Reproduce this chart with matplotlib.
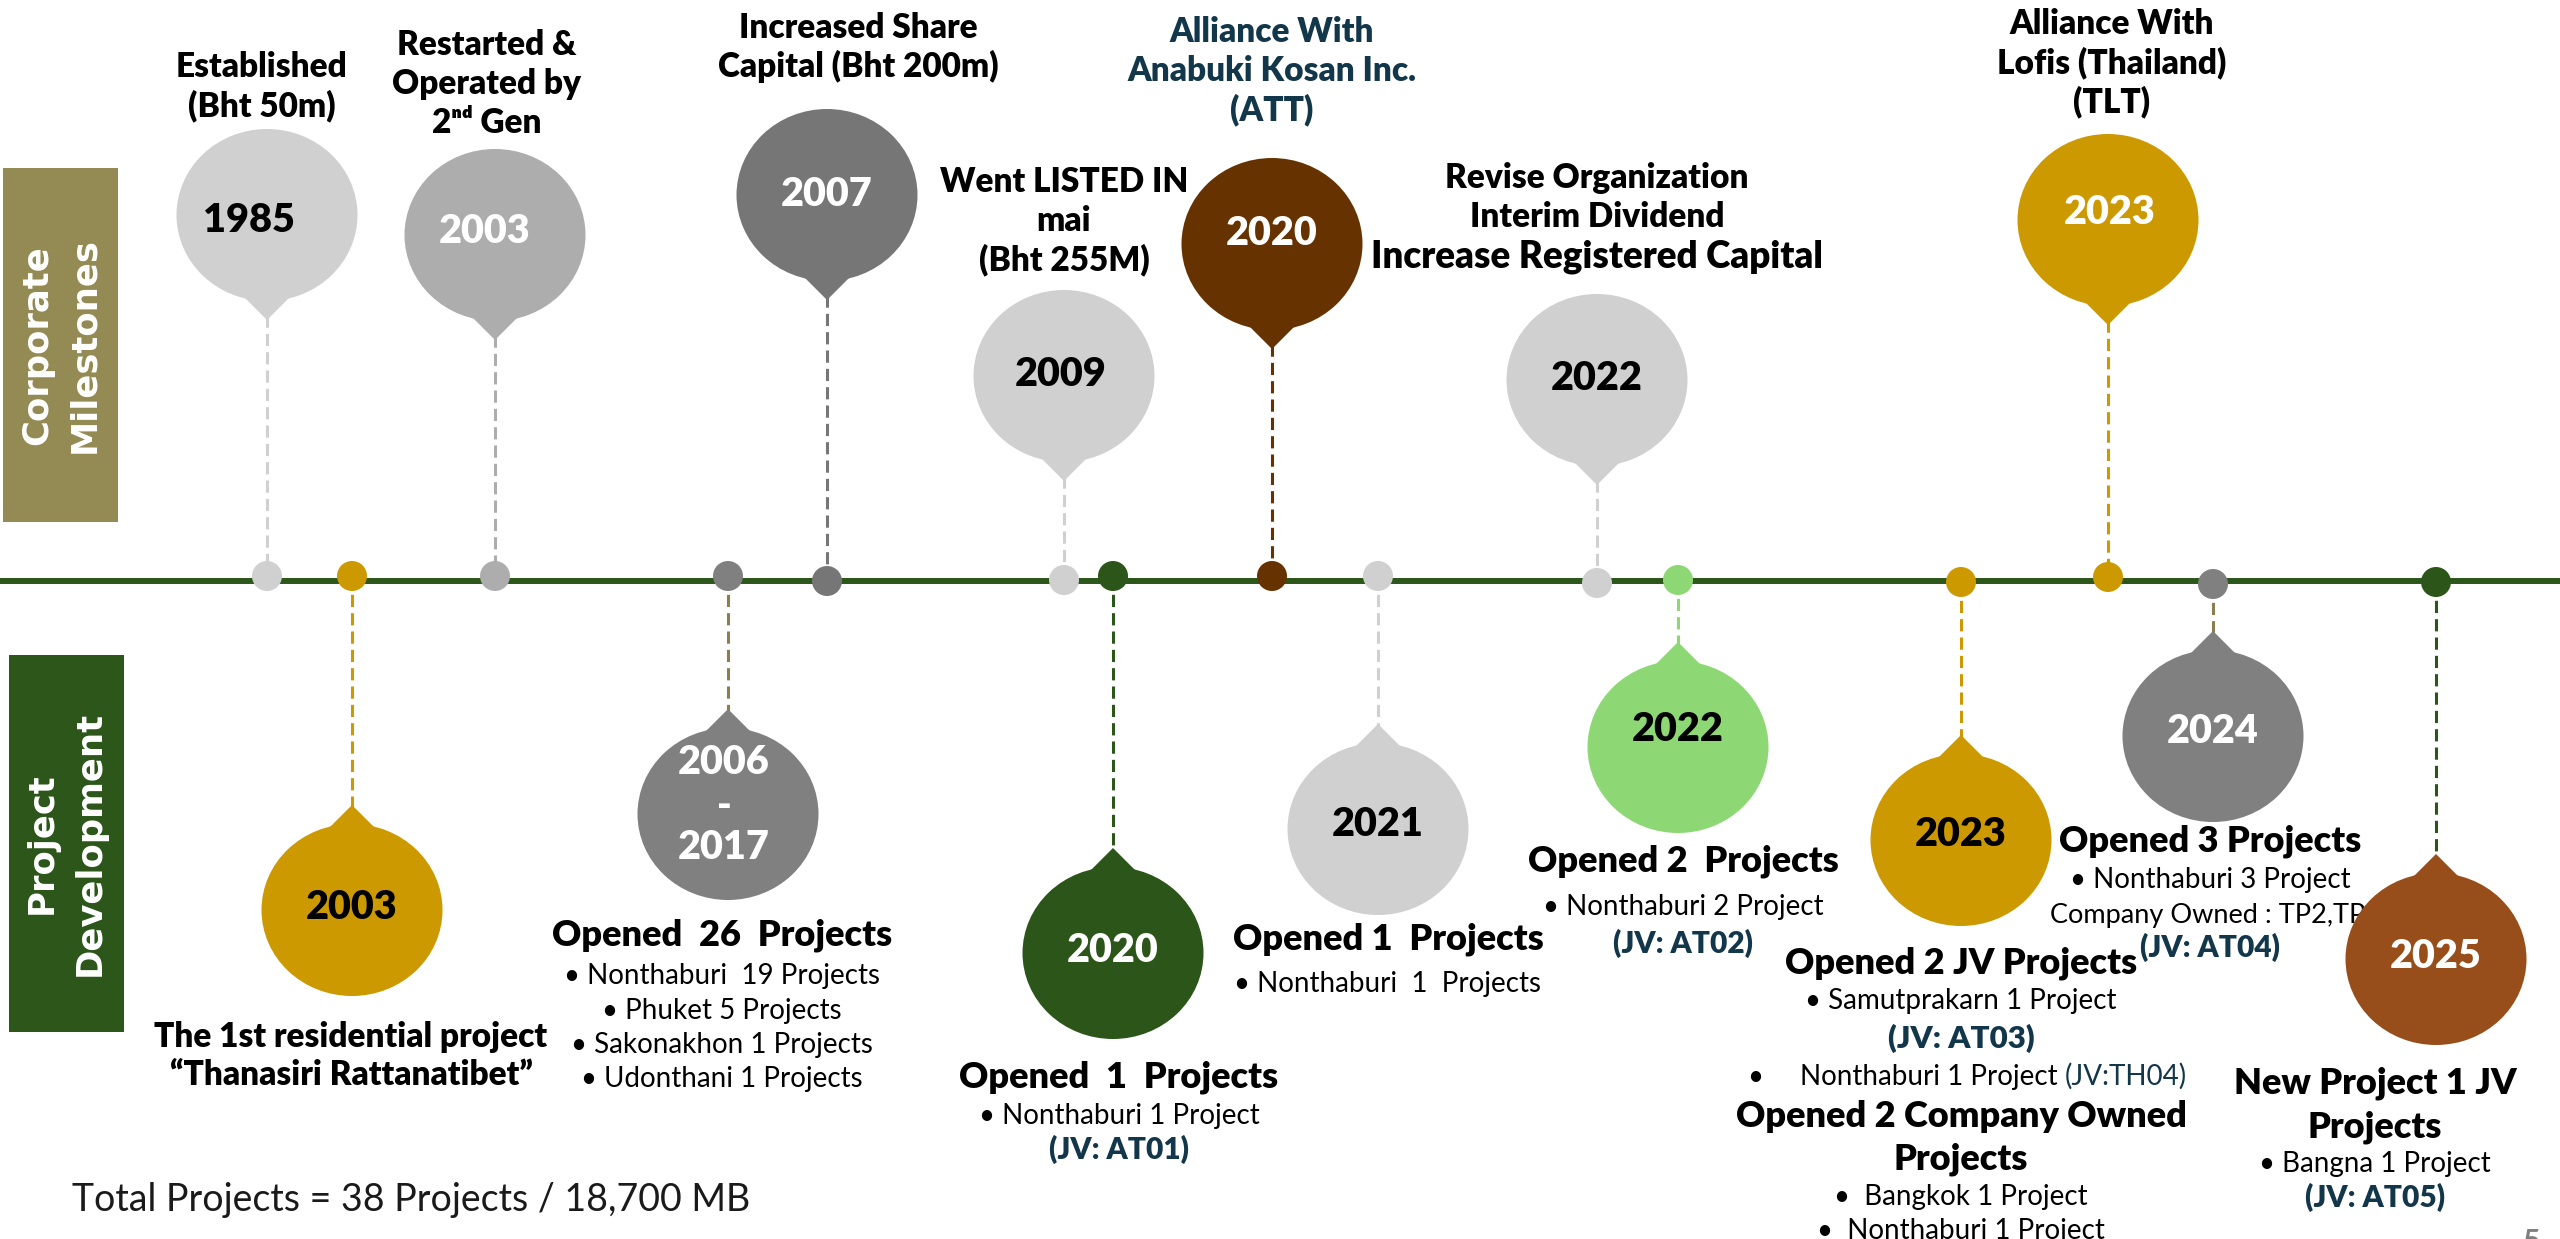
import matplotlib
matplotlib.use("Agg")
import matplotlib.pyplot as plt
from matplotlib.patches import Ellipse, Polygon, Rectangle, Circle

# ---------------- data ----------------
corp_years = ["1985", "2003", "2007", "2009", "2020", "2022", "2023"]
corp_titles = [
    ["Established", "(Bht 50m)"],
    ["Restarted &", "Operated by", "2ⁿᵈ Gen"],
    ["Increased Share", "Capital (Bht 200m)"],
    ["Went LISTED IN", "mai", "(Bht 255M)"],
    ["Alliance With", "Anabuki Kosan Inc.", "(ATT)"],
    ["Revise Organization", "Interim Dividend", "Increase Registered Capital"],
    ["Alliance With", "Lofis (Thailand)", "(TLT)"],
]
corp_balloon_colors = ["#D0D0D0", "#ADADAD", "#767676", "#D0D0D0", "#663300", "#D0D0D0", "#CC9900"]
corp_year_colors = ["black", "white", "white", "black", "white", "black", "white"]
corp_title_colors = ["black", "black", "black", "black", "#12364A", "black", "black"]

proj_years = ["2003", "2006\n-\n2017", "2020", "2021", "2022", "2023", "2024", "2025"]
proj_texts = [
    [("The 1st residential project", "head2"), ("“Thanasiri Rattanatibet”", "head2")],
    [("Opened  26  Projects", "head"), ("• Nonthaburi  19 Projects", "item"),
     ("• Phuket 5 Projects", "item"), ("• Sakonakhon 1 Projects", "item"),
     ("• Udonthani 1 Projects", "item")],
    [("Opened  1  Projects", "head"), ("• Nonthaburi 1 Project", "item"), ("(JV: AT01)", "jv")],
    [("Opened 1  Projects", "head"), ("• Nonthaburi  1  Projects", "item")],
    [("Opened 2  Projects", "head"), ("• Nonthaburi 2 Project", "item"), ("(JV: AT02)", "jv")],
    [("Opened 2 JV Projects", "head"), ("• Samutprakarn 1 Project", "item"), ("(JV: AT03)", "jvbig"),
     ("Nonthaburi 1 Project ", "special"), ("Opened 2 Company Owned", "head"), ("Projects", "head"),
     ("•  Bangkok 1 Project", "item"), ("•  Nonthaburi 1 Project", "item")],
    [("Opened 3 Projects", "head"), ("• Nonthaburi 3 Project", "item"),
     ("Company Owned : TP2,TP3", "itemleft"), ("(JV: AT04)", "jv")],
    [("New Project 1 JV", "head"), ("Projects", "head"), ("• Bangna 1 Project", "item"), ("(JV: AT05)", "jv")],
]
special_suffix = "(JV:TH04)"
proj_balloon_colors = ["#CC9900", "#808080", "#2B5519", "#D0D0D0", "#8DD874", "#CC9900", "#808080", "#974E1A"]
proj_year_colors = ["black", "white", "white", "black", "black", "black", "white", "white"]
proj_dot_colors = ["#CC9900", "#808080", "#2B5519", "#D0D0D0", "#8DD874", "#CC9900", "#808080", "#2B5519"]
proj_line_colors = ["#CC9900", "#8B7D4F", "#2B5519", "#D0D0D0", "#8DD874", "#CC9900", "#8B7D4F", "#2B5519"]

section_labels = [["Corporate", "Milestones"], ["Project", "Development"]]
total_text = "Total Projects = 38 Projects / 18,700 MB"

# ---------------- layout (pixels) ----------------
W, H = 2560, 1239
LINE_Y = 581
corp_x = [267, 495, 827, 1064, 1272, 1597, 2108]
corp_cy = [215, 235, 195, 376, 244, 380, 220]
corp_dot_y = [576, 576, 581, 580, 576, 583, 577]
corp_year_dx = [-18, -10, 0, -3, 0, 0, 2]
corp_year_y = [218, 229, 192, 372, 231, 376, 210]
corp_title_x = [262, 487, 858, 1064, 1272, 1597, 2112]
corp_title_y0 = [65, 43, 26, 180, 30, 176, 22]

proj_x = [352, 728, 1113, 1378, 1678, 1961, 2213, 2436]
proj_cy = [910, 814, 953, 829, 747, 840, 736, 959]
proj_dot_y = [576, 576, 576, 576, 580, 582, 584, 582]
proj_year_y = [905, None, 948, 822, 727, 832, 729, 954]
proj_text_x = [351, 722, 1119, 1388, 1683, 1961, 2210, 2375]
proj_text_y = [
    [1035, 1073],
    [932, 974, 1009, 1043, 1077],
    [1075, 1114, 1148],
    [936, 982],
    [859, 905, 942],
    [960, 999, 1037, 1075, 1114, 1157, 1195, 1229],
    [839, 878, 913, 946],
    [1081, 1124, 1162, 1196],
]

BW, BH = 181, 172  # balloon ellipse size
FAM = ["Lato", "DejaVu Sans"]
NAVY = "#12364A"
HEAVY = "heavy"
SIZES = {"head": 26, "head2": 24, "item": 20, "jv": 21.5, "jvbig": 22.5, "itemleft": 19.5, "special": 20}
WEIGHTS = {"head": HEAVY, "head2": HEAVY, "item": "normal", "jv": HEAVY, "jvbig": HEAVY,
           "itemleft": "normal", "special": "normal"}

fig = plt.figure(figsize=(25.6, 12.39), dpi=100)
ax = fig.add_axes([0, 0, 1, 1])
ax.set_xlim(0, W)
ax.set_ylim(H, 0)
ax.axis("off")


def txt(x, yc, s, size, weight=HEAVY, color="black", ha="center", z=6, family=FAM):
    base = yc + 0.36 * size * 100 / 72
    return ax.text(x, base, s, fontsize=size, fontweight=weight, color=color, ha=ha,
                   va="baseline", family=family, zorder=z)


def balloon(cx, cy, color, up=True, z=4):
    ax.add_patch(Ellipse((cx, cy), BW, BH, facecolor=color, edgecolor="none", zorder=z))
    s = 1 if up else -1
    ax.add_patch(Polygon([(cx - 45, cy + s * 60), (cx + 45, cy + s * 60), (cx, cy + s * 105)],
                         closed=True, facecolor=color, edgecolor="none", zorder=z))


# section boxes
ax.add_patch(Rectangle((3, 168), 115, 354, facecolor="#948A54", edgecolor="none", zorder=1))
ax.add_patch(Rectangle((9, 655), 115, 377, facecolor="#2C561A", edgecolor="none", zorder=1))
label_pos = [((37, 84), 345), ((42, 90), 843)]
for (xs, yc), lab in zip(label_pos, section_labels):
    for xx, word in zip(xs, lab):
        ax.text(xx, yc, word, rotation=90, ha="center", va="center", fontsize=25.5,
                fontweight="bold", color="white", family="DejaVu Sans", zorder=2)

# timeline
ax.plot([0, W], [LINE_Y, LINE_Y], color="#2C561A", lw=4.3, solid_capstyle="butt", zorder=2)

DASH = (0, (4, 2))
# corporate milestones (balloons above)
for i, yr in enumerate(corp_years):
    x, cy = corp_x[i], corp_cy[i]
    ax.plot([x, x], [cy + 100, corp_dot_y[i]], color=corp_balloon_colors[i], lw=2.2,
            linestyle=DASH, zorder=1.5)
    ax.add_patch(Circle((x, corp_dot_y[i]), 15, facecolor=corp_balloon_colors[i],
                        edgecolor="none", zorder=3))
    balloon(x, cy, corp_balloon_colors[i], up=True)
    txt(x + corp_year_dx[i], corp_year_y[i], yr, 28.5, color=corp_year_colors[i])
    for j, line in enumerate(corp_titles[i]):
        size = 26.5 if line.startswith("Increase Registered") else 24
        txt(corp_title_x[i], corp_title_y0[i] + 39 * j, line, size, color=corp_title_colors[i])

# project development (balloons below)
for i, yr in enumerate(proj_years):
    x, cy = proj_x[i], proj_cy[i]
    ax.plot([x, x], [proj_dot_y[i], cy - 100], color=proj_line_colors[i], lw=2.2,
            linestyle=DASH, zorder=1.5)
    ax.add_patch(Circle((x, proj_dot_y[i]), 15, facecolor=proj_dot_colors[i],
                        edgecolor="none", zorder=3))
    balloon(x, cy, proj_balloon_colors[i], up=False, z=4 if i < 7 else 5.5)
    if "\n" in yr:
        parts = yr.split("\n")
        for p, dy in zip(parts, [-54, -10, 31]):
            txt(x - 4, cy + dy, p, 28.5, color=proj_year_colors[i], z=6)
    else:
        txt(x, proj_year_y[i], yr, 28.5, color=proj_year_colors[i], z=6)

    for (line, style), yy in zip(proj_texts[i], proj_text_y[i]):
        size, weight = SIZES[style], WEIGHTS[style]
        color = NAVY if style.startswith("jv") else "black"
        if style == "special":
            txt(1755, yy, "•", size, weight="normal")
            t = txt(1800, yy, line, size, weight="normal", ha="left")
            fig.canvas.draw()
            bb = t.get_window_extent(fig.canvas.get_renderer())
            txt(bb.x1, yy, special_suffix, size, weight="normal", color=NAVY, ha="left")
        elif style == "itemleft":
            txt(2050, yy, line, size, weight=weight, ha="left", z=5)
        else:
            txt(proj_text_x[i], yy, line, size, weight=weight, color=color)

# footer
txt(72, 1197, total_text, 27, weight="normal", color="#1A1A1A", ha="left")
txt(2532, 1240, "5", 22, weight="bold", color="#7F7F7F")

fig.savefig("out.png", dpi=100)
